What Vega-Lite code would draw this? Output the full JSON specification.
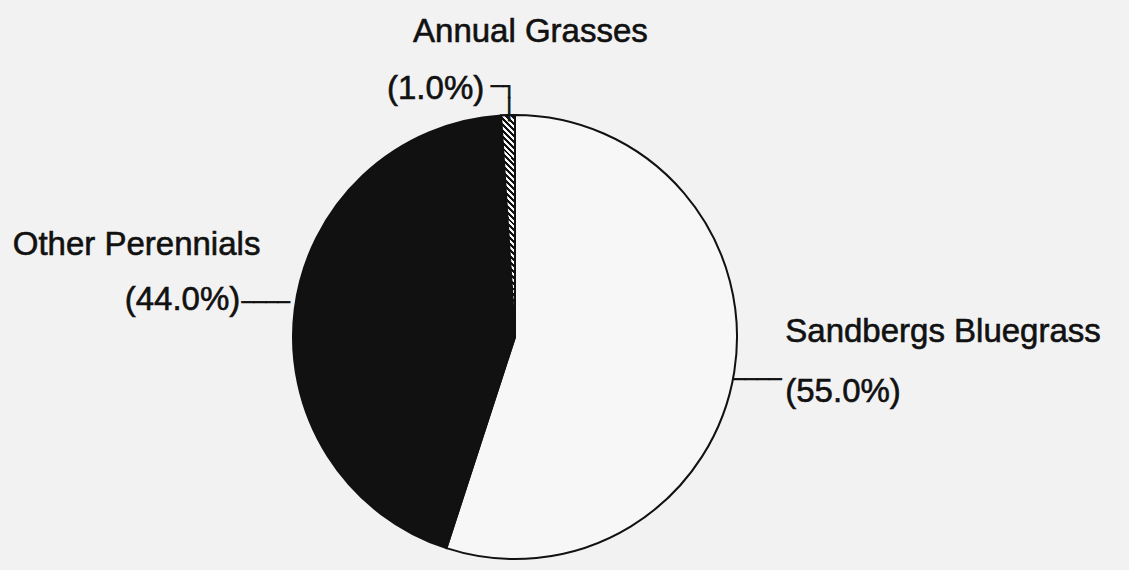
{
  "$schema": "https://vega.github.io/schema/vega-lite/v6.json",
  "autosize": {"type": "none"},
  "width": 1030,
  "height": 466,
  "padding": {"left": 0, "right": 99, "top": 104, "bottom": 0},
  "background": "#f2f2f2",
  "config": {"view": {"stroke": null}},
  "data": {
    "values": [
      {"category": "Sandbergs Bluegrass", "pct": 55, "pct_label": "(55.0%)"},
      {"category": "Other Perennials", "pct": 44, "pct_label": "(44.0%)"},
      {"category": "Annual Grasses", "pct": 1, "pct_label": "(1.0%)"}
    ]
  },
  "encoding": {
    "theta": {"field": "pct", "type": "quantitative", "stack": true},
    "order": {"field": "pct", "type": "quantitative", "sort": "descending"}
  },
  "layer": [
    {
      "mark": {"type": "arc", "radius": 222, "stroke": "#111", "strokeWidth": 2},
      "encoding": {
        "color": {
          "field": "category",
          "type": "nominal",
          "scale": {"domain": ["Sandbergs Bluegrass", "Other Perennials", "Annual Grasses"], "range": ["#f7f7f7", "#111111", "#111111"]},
          "legend": null
        }
      }
    },
    {
      "mark": {
        "type": "arc", "radius": 222, "stroke": "#111", "strokeWidth": 2,
        "fill": {
          "gradient": "linear", "x1": 0, "y1": 1, "x2": 0.067, "y2": -0.06,
          "stops": [
            {"offset": 0, "color": "#111"}, {"offset": 0.0125, "color": "#111"}, {"offset": 0.0125, "color": "#f7f7f7"}, {"offset": 0.025, "color": "#f7f7f7"},
            {"offset": 0.025, "color": "#111"}, {"offset": 0.0375, "color": "#111"}, {"offset": 0.0375, "color": "#f7f7f7"}, {"offset": 0.05, "color": "#f7f7f7"},
            {"offset": 0.05, "color": "#111"}, {"offset": 0.0625, "color": "#111"}, {"offset": 0.0625, "color": "#f7f7f7"}, {"offset": 0.075, "color": "#f7f7f7"},
            {"offset": 0.075, "color": "#111"}, {"offset": 0.0875, "color": "#111"}, {"offset": 0.0875, "color": "#f7f7f7"}, {"offset": 0.1, "color": "#f7f7f7"},
            {"offset": 0.1, "color": "#111"}, {"offset": 0.1125, "color": "#111"}, {"offset": 0.1125, "color": "#f7f7f7"}, {"offset": 0.125, "color": "#f7f7f7"},
            {"offset": 0.125, "color": "#111"}, {"offset": 0.1375, "color": "#111"}, {"offset": 0.1375, "color": "#f7f7f7"}, {"offset": 0.15, "color": "#f7f7f7"},
            {"offset": 0.15, "color": "#111"}, {"offset": 0.1625, "color": "#111"}, {"offset": 0.1625, "color": "#f7f7f7"}, {"offset": 0.175, "color": "#f7f7f7"},
            {"offset": 0.175, "color": "#111"}, {"offset": 0.1875, "color": "#111"}, {"offset": 0.1875, "color": "#f7f7f7"}, {"offset": 0.2, "color": "#f7f7f7"},
            {"offset": 0.2, "color": "#111"}, {"offset": 0.2125, "color": "#111"}, {"offset": 0.2125, "color": "#f7f7f7"}, {"offset": 0.225, "color": "#f7f7f7"},
            {"offset": 0.225, "color": "#111"}, {"offset": 0.2375, "color": "#111"}, {"offset": 0.2375, "color": "#f7f7f7"}, {"offset": 0.25, "color": "#f7f7f7"},
            {"offset": 0.25, "color": "#111"}, {"offset": 0.2625, "color": "#111"}, {"offset": 0.2625, "color": "#f7f7f7"}, {"offset": 0.275, "color": "#f7f7f7"},
            {"offset": 0.275, "color": "#111"}, {"offset": 0.2875, "color": "#111"}, {"offset": 0.2875, "color": "#f7f7f7"}, {"offset": 0.3, "color": "#f7f7f7"},
            {"offset": 0.3, "color": "#111"}, {"offset": 0.3125, "color": "#111"}, {"offset": 0.3125, "color": "#f7f7f7"}, {"offset": 0.325, "color": "#f7f7f7"},
            {"offset": 0.325, "color": "#111"}, {"offset": 0.3375, "color": "#111"}, {"offset": 0.3375, "color": "#f7f7f7"}, {"offset": 0.35, "color": "#f7f7f7"},
            {"offset": 0.35, "color": "#111"}, {"offset": 0.3625, "color": "#111"}, {"offset": 0.3625, "color": "#f7f7f7"}, {"offset": 0.375, "color": "#f7f7f7"},
            {"offset": 0.375, "color": "#111"}, {"offset": 0.3875, "color": "#111"}, {"offset": 0.3875, "color": "#f7f7f7"}, {"offset": 0.4, "color": "#f7f7f7"},
            {"offset": 0.4, "color": "#111"}, {"offset": 0.4125, "color": "#111"}, {"offset": 0.4125, "color": "#f7f7f7"}, {"offset": 0.425, "color": "#f7f7f7"},
            {"offset": 0.425, "color": "#111"}, {"offset": 0.4375, "color": "#111"}, {"offset": 0.4375, "color": "#f7f7f7"}, {"offset": 0.45, "color": "#f7f7f7"},
            {"offset": 0.45, "color": "#111"}, {"offset": 0.4625, "color": "#111"}, {"offset": 0.4625, "color": "#f7f7f7"}, {"offset": 0.475, "color": "#f7f7f7"},
            {"offset": 0.475, "color": "#111"}, {"offset": 0.4875, "color": "#111"}, {"offset": 0.4875, "color": "#f7f7f7"}, {"offset": 0.5, "color": "#f7f7f7"},
            {"offset": 0.5, "color": "#111"}, {"offset": 0.5125, "color": "#111"}, {"offset": 0.5125, "color": "#f7f7f7"}, {"offset": 0.525, "color": "#f7f7f7"},
            {"offset": 0.525, "color": "#111"}, {"offset": 0.5375, "color": "#111"}, {"offset": 0.5375, "color": "#f7f7f7"}, {"offset": 0.55, "color": "#f7f7f7"},
            {"offset": 0.55, "color": "#111"}, {"offset": 0.5625, "color": "#111"}, {"offset": 0.5625, "color": "#f7f7f7"}, {"offset": 0.575, "color": "#f7f7f7"},
            {"offset": 0.575, "color": "#111"}, {"offset": 0.5875, "color": "#111"}, {"offset": 0.5875, "color": "#f7f7f7"}, {"offset": 0.6, "color": "#f7f7f7"},
            {"offset": 0.6, "color": "#111"}, {"offset": 0.6125, "color": "#111"}, {"offset": 0.6125, "color": "#f7f7f7"}, {"offset": 0.625, "color": "#f7f7f7"},
            {"offset": 0.625, "color": "#111"}, {"offset": 0.6375, "color": "#111"}, {"offset": 0.6375, "color": "#f7f7f7"}, {"offset": 0.65, "color": "#f7f7f7"},
            {"offset": 0.65, "color": "#111"}, {"offset": 0.6625, "color": "#111"}, {"offset": 0.6625, "color": "#f7f7f7"}, {"offset": 0.675, "color": "#f7f7f7"},
            {"offset": 0.675, "color": "#111"}, {"offset": 0.6875, "color": "#111"}, {"offset": 0.6875, "color": "#f7f7f7"}, {"offset": 0.7, "color": "#f7f7f7"},
            {"offset": 0.7, "color": "#111"}, {"offset": 0.7125, "color": "#111"}, {"offset": 0.7125, "color": "#f7f7f7"}, {"offset": 0.725, "color": "#f7f7f7"},
            {"offset": 0.725, "color": "#111"}, {"offset": 0.7375, "color": "#111"}, {"offset": 0.7375, "color": "#f7f7f7"}, {"offset": 0.75, "color": "#f7f7f7"},
            {"offset": 0.75, "color": "#111"}, {"offset": 0.7625, "color": "#111"}, {"offset": 0.7625, "color": "#f7f7f7"}, {"offset": 0.775, "color": "#f7f7f7"},
            {"offset": 0.775, "color": "#111"}, {"offset": 0.7875, "color": "#111"}, {"offset": 0.7875, "color": "#f7f7f7"}, {"offset": 0.8, "color": "#f7f7f7"},
            {"offset": 0.8, "color": "#111"}, {"offset": 0.8125, "color": "#111"}, {"offset": 0.8125, "color": "#f7f7f7"}, {"offset": 0.825, "color": "#f7f7f7"},
            {"offset": 0.825, "color": "#111"}, {"offset": 0.8375, "color": "#111"}, {"offset": 0.8375, "color": "#f7f7f7"}, {"offset": 0.85, "color": "#f7f7f7"},
            {"offset": 0.85, "color": "#111"}, {"offset": 0.8625, "color": "#111"}, {"offset": 0.8625, "color": "#f7f7f7"}, {"offset": 0.875, "color": "#f7f7f7"},
            {"offset": 0.875, "color": "#111"}, {"offset": 0.8875, "color": "#111"}, {"offset": 0.8875, "color": "#f7f7f7"}, {"offset": 0.9, "color": "#f7f7f7"},
            {"offset": 0.9, "color": "#111"}, {"offset": 0.9125, "color": "#111"}, {"offset": 0.9125, "color": "#f7f7f7"}, {"offset": 0.925, "color": "#f7f7f7"},
            {"offset": 0.925, "color": "#111"}, {"offset": 0.9375, "color": "#111"}, {"offset": 0.9375, "color": "#f7f7f7"}, {"offset": 0.95, "color": "#f7f7f7"},
            {"offset": 0.95, "color": "#111"}, {"offset": 0.9625, "color": "#111"}, {"offset": 0.9625, "color": "#f7f7f7"}, {"offset": 0.975, "color": "#f7f7f7"},
            {"offset": 0.975, "color": "#111"}, {"offset": 0.9875, "color": "#111"}, {"offset": 0.9875, "color": "#f7f7f7"}, {"offset": 1, "color": "#f7f7f7"}
          ]
        }
      },
      "encoding": {
        "opacity": {"condition": {"test": "datum.category === 'Annual Grasses'", "value": 1}, "value": 0}
      }
    },
    {
      "mark": {"type": "text", "radius": 222, "align": "left", "baseline": "alphabetic", "font": "Liberation Sans", "fontSize": 33, "fill": "#111", "stroke": "#111", "strokeWidth": 0.6, "dx": -95, "dy": -73},
      "encoding": {"text": {"condition": {"test": "datum.category === 'Annual Grasses'", "field": "category", "type": "nominal"}, "value": ""}}
    },
    {
      "mark": {"type": "text", "radius": 222, "align": "left", "baseline": "alphabetic", "font": "Liberation Sans", "fontSize": 33, "fill": "#111", "stroke": "#111", "strokeWidth": 0.6, "dx": -121, "dy": -16},
      "encoding": {"text": {"condition": {"test": "datum.category === 'Annual Grasses'", "field": "pct_label", "type": "nominal"}, "value": ""}}
    },
    {
      "mark": {"type": "text", "radius": 222, "align": "left", "baseline": "alphabetic", "font": "Liberation Sans", "fontSize": 33, "fill": "#111", "stroke": "#111", "strokeWidth": 0.6, "dx": -282, "dy": -54},
      "encoding": {"text": {"condition": {"test": "datum.category === 'Other Perennials'", "field": "category", "type": "nominal"}, "value": ""}}
    },
    {
      "mark": {"type": "text", "radius": 222, "align": "left", "baseline": "alphabetic", "font": "Liberation Sans", "fontSize": 33, "fill": "#111", "stroke": "#111", "strokeWidth": 0.6, "dx": -170, "dy": 1},
      "encoding": {"text": {"condition": {"test": "datum.category === 'Other Perennials'", "field": "pct_label", "type": "nominal"}, "value": ""}}
    },
    {
      "mark": {"type": "text", "radius": 222, "align": "left", "baseline": "alphabetic", "font": "Liberation Sans", "fontSize": 33, "fill": "#111", "stroke": "#111", "strokeWidth": 0.6, "dx": 51, "dy": -30},
      "encoding": {"text": {"condition": {"test": "datum.category === 'Sandbergs Bluegrass'", "field": "category", "type": "nominal"}, "value": ""}}
    },
    {
      "mark": {"type": "text", "radius": 222, "align": "left", "baseline": "alphabetic", "font": "Liberation Sans", "fontSize": 33, "fill": "#111", "stroke": "#111", "strokeWidth": 0.6, "dx": 51, "dy": 30},
      "encoding": {"text": {"condition": {"test": "datum.category === 'Sandbergs Bluegrass'", "field": "pct_label", "type": "nominal"}, "value": ""}}
    },
    {
      "mark": {"type": "text", "radius": 222, "align": "left", "baseline": "middle", "font": "DejaVu Sans Mono", "fontSize": 20, "fill": "#111", "stroke": "#111", "strokeWidth": 0.8, "dx": -53, "dy": -6},
      "encoding": {"text": {"condition": {"test": "datum.category === 'Other Perennials'", "value": "────"}, "value": ""}}
    },
    {
      "mark": {"type": "text", "radius": 222, "align": "left", "baseline": "middle", "font": "DejaVu Sans Mono", "fontSize": 20, "fill": "#111", "stroke": "#111", "strokeWidth": 0.8, "dx": -1, "dy": 8},
      "encoding": {"text": {"condition": {"test": "datum.category === 'Sandbergs Bluegrass'", "value": "────"}, "value": ""}}
    },
    {
      "mark": {"type": "text", "radius": 222, "align": "right", "baseline": "middle", "font": "DejaVu Sans Mono", "fontSize": 20, "lineHeight": 23.3, "fill": "#111", "stroke": "#111", "strokeWidth": 0.8, "dx": 7, "dy": -28},
      "encoding": {"text": {"condition": {"test": "datum.category === 'Annual Grasses'", "value": ["─┐", "│"]}, "value": ""}}
    }
  ]
}
